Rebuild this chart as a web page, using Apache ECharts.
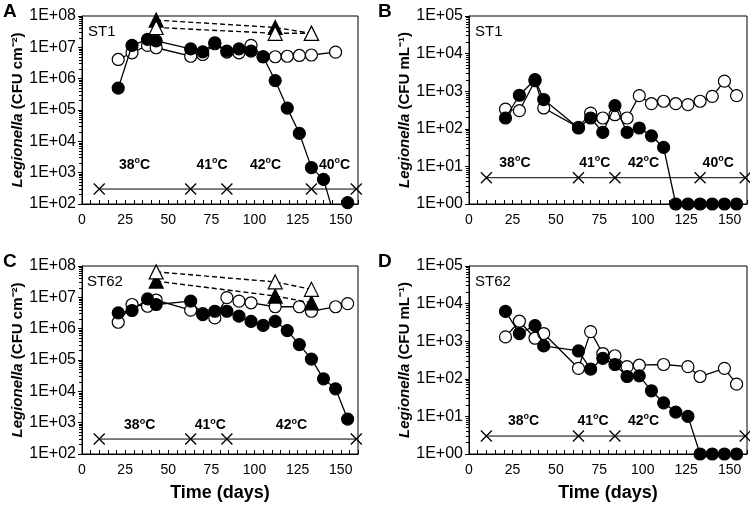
<!DOCTYPE html>
<html><head><meta charset="utf-8">
<script src="https://cdn.jsdelivr.net/npm/echarts@6/dist/echarts.min.js"></script>
<style>html,body{margin:0;padding:0;background:#fff}#c{width:750px;height:511px}</style>
</head><body><div id="c"></div>
<script>
// ---- data ----
const days = [21,29,38,43,63,70,77,84,91,98,105,112,119,126,133,140,147,154];
const triDays = [43,112,133];
const xTickLabels = [0,25,50,75,100,125,150];

// Panel A: ST1 biofilm (CFU cm-2)
const aFilled = [5.0e5,1.15e7,1.8e7,1.6e7,8.9e6,7.2e6,1.4e7,7.6e6,8.9e6,7.6e6,5.0e6,8.7e5,1.15e5,1.8e4,1.45e3,6.1e2,30,1.1e2];
const aOpen   = [4.1e6,6.7e6,1.15e7,9.7e6,5.2e6,5.9e6,1.3e7,7.0e6,6.7e6,1.15e7,5.0e6,5.0e6,5.2e6,5.5e6,5.7e6,null,7.0e6,null];
const aTriFilled = [7.4e7,4.3e7,2.8e7];
const aTriOpen   = [4.3e7,2.8e7,2.8e7];
const aTempDays = [10,63,84,133,159];
const aTempLevel = 300;
const aTempLabels = [[31,'38'],[76,'41'],[107,'42'],[147,'40']];
const aTempLabelLevel = 1.7e3;

// Panel B: ST1 water (CFU mL-1)
const bFilled = [194,780,2040,600,105,194,80,415,80,105,65,32,1,1,1,1,1,1];
const bOpen   = [335,303,1900,358,109,262,194,237,194,760,465,540,465,440,540,730,1850,760];
const bTempDays = [10,63,84,133,159];
const bTempLevel = 5;
const bTempLabels = [[27,'38'],[73,'41'],[101,'42'],[144,'40']];
const bTempLabelLevel = 12;

// Panel C: ST62 biofilm (CFU cm-2)
const cFilled = [3.2e6,3.8e6,8.9e6,5.9e6,7.6e6,2.8e6,3.6e6,3.6e6,2.5e6,1.7e6,1.27e6,1.7e6,8.7e5,3.1e5,1.07e5,2.5e4,1.2e4,1.3e3];
const cOpen   = [1.6e6,5.9e6,5.2e6,8.2e6,3.9e6,3.0e6,2.2e6,9.8e6,7.6e6,6.7e6,null,5.0e6,null,5.0e6,3.6e6,null,5.0e6,6.3e6];
const cTriFilled = [3.3e7,1.1e7,6.7e6];
const cTriOpen   = [6.5e7,3.1e7,1.8e7];
const cTempDays = [10,63,84,159];
const cTempLevel = 300;
const cTempLabels = [[34,'38'],[75,'41'],[122,'42']];
const cTempLabelLevel = 810;

// Panel D: ST62 water (CFU mL-1)
const dFilled = [6.2e3,1.6e3,2.6e3,7.5e2,5.5e2,1.8e2,3.5e2,2.4e2,1.15e2,1.2e2,48,23,13,10,1,1,1,1];
const dOpen   = [1.3e3,3.4e3,1.2e3,1.6e3,1.9e2,1.8e3,4.7e2,4.1e2,2.1e2,2.3e2,null,2.4e2,null,2.1e2,1.15e2,null,1.9e2,72];
const dTempDays = [10,63,84,159];
const dTempLevel = 3;
const dTempLabels = [[32,'38'],[72,'41'],[101,'42']];
const dTempLabelLevel = 7.5;

// ---- chart ----
const FONT = 'Liberation Sans, Arial, sans-serif';
const grids = [
  {left:82, top:16, width:276, height:188},
  {left:469, top:16, width:278, height:188},
  {left:82, top:266, width:276, height:188},
  {left:469, top:266, width:278, height:188}
].map(g => Object.assign({show:true, borderColor:'#000', borderWidth:1, backgroundColor:'#fff'}, g));

function xAxis(gi, withName) {
  return {
    type:'value', gridIndex:gi, min:0, max:160, interval:5,
    axisLine:{show:true, lineStyle:{color:'#000', width:1}},
    axisTick:{show:true, inside:true, length:4, lineStyle:{color:'#000'}},
    splitLine:{show:false},
    axisLabel:{color:'#000', fontFamily:FONT, fontSize:14, margin:9,
      formatter: v => xTickLabels.includes(v) ? String(v) : ''},
    name: withName ? 'Time (days)' : '',
    nameLocation:'middle', nameGap:30,
    nameTextStyle:{color:'#000', fontFamily:FONT, fontSize:18, fontWeight:'bold'}
  };
}
function yAxis(gi, min, max, unit) {
  const decades = Math.round(Math.log10(max/min));
  return {
    type:'log', logBase:10, gridIndex:gi, min:min, max:max, splitNumber:decades,
    axisLine:{show:true, lineStyle:{color:'#000', width:1}},
    axisTick:{show:true, inside:false, length:4, lineStyle:{color:'#000'}},
    minorTick:{show:true, splitNumber:9, length:3, lineStyle:{color:'#000'}},
    splitLine:{show:false},
    axisLabel:{color:'#000', fontFamily:FONT, fontSize:16, margin:6,
      formatter: v => { const e = Math.round(Math.log10(v)); return '1E+' + (e < 10 ? '0' : '') + e; }},
    name: '{i|Legionella} {n|(CFU ' + unit + ')}',
    nameLocation:'middle', nameGap:56,
    nameTextStyle:{color:'#000', fontFamily:FONT, fontSize:15, fontWeight:'bold',
      rich:{
        i:{fontStyle:'italic', fontWeight:'bold', fontSize:15, fontFamily:FONT, color:'#000'},
        n:{fontWeight:'bold', fontSize:15, fontFamily:FONT, color:'#000'}
      }}
  };
}

function pts(xs, vals) {
  const out = [];
  xs.forEach((d, i) => { if (vals[i] != null) out.push([d, vals[i]]); });
  return out;
}
function circleSeries(gi, vals, filled) {
  return {
    type:'line', xAxisIndex:gi, yAxisIndex:gi, data:pts(days, vals),
    symbol:'circle', symbolSize:12, showSymbol:true, clip:true,
    itemStyle:{color: filled ? '#000' : '#fff', borderColor:'#000', borderWidth:1.2},
    lineStyle:{color:'#000', width:1.3}, z: filled ? 5 : 4, animation:false, silent:true
  };
}
function triSeries(gi, vals, filled) {
  return {
    type:'line', xAxisIndex:gi, yAxisIndex:gi, data:pts(triDays, vals),
    symbol:'triangle', symbolSize:14, clip:true,
    itemStyle:{color: filled ? '#000' : '#fff', borderColor:'#000', borderWidth:1.2},
    lineStyle:{color:'#000', width:1.4, type:[5,3]}, z: filled ? 6 : 7, animation:false, silent:true
  };
}
function tempSeries(gi, xs, level) {
  return {
    type:'line', xAxisIndex:gi, yAxisIndex:gi, data:xs.map(d => [d, level]),
    symbol:'path://M0,0L10,10M10,0L0,10', symbolSize:11, clip:false,
    itemStyle:{color:'none', borderColor:'#000', borderWidth:1.3},
    lineStyle:{color:'#000', width:1}, z:3, animation:false, silent:true
  };
}
function labelSeries(gi, labels, level) {
  return {
    type:'scatter', xAxisIndex:gi, yAxisIndex:gi,
    data:labels.map(l => ({value:[l[0], level], name:l[1]})),
    symbolSize:2, itemStyle:{color:'#fff', opacity:0}, z:8, animation:false, silent:true,
    label:{show:true, position:[0,0], align:'center', verticalAlign:'middle',
      color:'#000', opacity:1, textBorderWidth:0, fontFamily:FONT, fontSize:14, fontWeight:'bold',
      formatter: p => '{m|' + p.name + '}{o|o}{m|C}',
      rich:{
        m:{fontSize:14, fontWeight:'bold', fontFamily:FONT, color:'#000', lineHeight:16, verticalAlign:'bottom'},
        o:{fontSize:9, fontWeight:'bold', fontFamily:FONT, color:'#000', lineHeight:16, verticalAlign:'top'}
      }}
  };
}

const series = [
  tempSeries(0, aTempDays, aTempLevel), labelSeries(0, aTempLabels, aTempLabelLevel),
  circleSeries(0, aOpen, false), circleSeries(0, aFilled, true),
  triSeries(0, aTriFilled, true), triSeries(0, aTriOpen, false),

  tempSeries(1, bTempDays, bTempLevel), labelSeries(1, bTempLabels, bTempLabelLevel),
  circleSeries(1, bOpen, false), circleSeries(1, bFilled, true),

  tempSeries(2, cTempDays, cTempLevel), labelSeries(2, cTempLabels, cTempLabelLevel),
  circleSeries(2, cOpen, false), circleSeries(2, cFilled, true),
  triSeries(2, cTriFilled, true), triSeries(2, cTriOpen, false),

  tempSeries(3, dTempDays, dTempLevel), labelSeries(3, dTempLabels, dTempLabelLevel),
  circleSeries(3, dOpen, false), circleSeries(3, dFilled, true)
];

const txt = (l, t, s, size, bold) => ({type:'text', left:l, top:t,
  style:{text:s, fill:'#000', font:(bold ? 'bold ' : '') + size + 'px ' + FONT}});

const chart = echarts.init(document.getElementById('c'), null, {renderer:'canvas'});
chart.setOption({
  animation:false,
  backgroundColor:'#fff',
  grid: grids,
  xAxis:[xAxis(0,false), xAxis(1,false), xAxis(2,true), xAxis(3,true)],
  yAxis:[yAxis(0,1e2,1e8,'cm⁻²'), yAxis(1,1,1e5,'mL⁻¹'), yAxis(2,1e2,1e8,'cm⁻²'), yAxis(3,1,1e5,'mL⁻¹')],
  series: series,
  graphic:[
    txt(3, 2, 'A', 19, true), txt(378, 2, 'B', 19, true),
    txt(3, 252, 'C', 19, true), txt(378, 252, 'D', 19, true),
    txt(88, 24, 'ST1', 15, false), txt(475, 24, 'ST1', 15, false),
    txt(87, 274, 'ST62', 15, false), txt(475, 274, 'ST62', 15, false)
  ]
});
</script></body></html>
